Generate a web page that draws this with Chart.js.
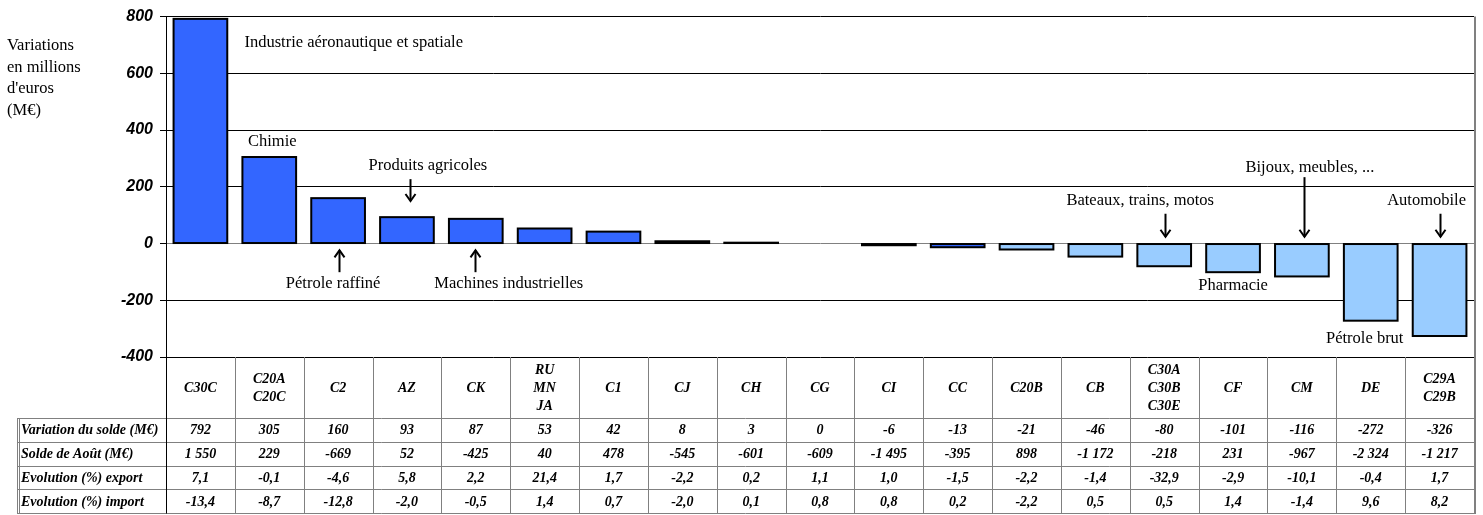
<!DOCTYPE html>
<html><head><meta charset="utf-8">
<script src="https://cdn.jsdelivr.net/npm/chart.js@4.4.1/dist/chart.umd.min.js"></script>
<style>html,body{margin:0;padding:0;background:#fff;}#wrap{width:1483px;height:515px;position:relative;}</style>
</head><body><div id="wrap"><canvas id="c"></canvas></div>
<script>
// ---------- DATA ----------
const categories = [['C30C'],['C20A','C20C'],['C2'],['AZ'],['CK'],['RU','MN','JA'],['C1'],['CJ'],['CH'],['CG'],['CI'],['CC'],['C20B'],['CB'],['C30A','C30B','C30E'],['CF'],['CM'],['DE'],['C29A','C29B']];
const variationSolde = [792,305,160,93,87,53,42,8,3,0,-6,-13,-21,-46,-80,-101,-116,-272,-326];
const soldeAout = [1550,229,-669,52,-425,40,478,-545,-601,-609,-1495,-395,898,-1172,-218,231,-967,-2324,-1217];
const evolExport = [7.1,-0.1,-4.6,5.8,2.2,21.4,1.7,-2.2,0.2,1.1,1.0,-1.5,-2.2,-1.4,-32.9,-2.9,-10.1,-0.4,1.7];
const evolImport = [-13.4,-8.7,-12.8,-2.0,-0.5,1.4,0.7,-2.0,0.1,0.8,0.8,0.2,-2.2,0.5,0.5,1.4,-1.4,9.6,8.2];
const rowLabels = ['Variation du solde (M\u20ac)','Solde de Ao\u00fbt (M\u20ac)','Evolution (%) export','Evolution (%) import'];
const yTicks = [-400,-200,0,200,400,600,800];
const yTitle = ['Variations','en millions',"d'euros",'(M\u20ac)'];
const annotationTexts = ['Industrie a\u00e9ronautique et spatiale','Chimie','Produits agricoles','P\u00e9trole raffin\u00e9','Machines industrielles','Bateaux, trains, motos','Bijoux, meubles, ...','Automobile','Pharmacie','P\u00e9trole brut'];

// ---------- STYLE / LAYOUT ----------
const DARK = '#3366FF', LIGHT = '#99CCFF', LIGHT_FROM = 12;
const TABLE_HEAD_BOTTOM = 418, TABLE_BOTTOM = 513, TABLE_LEFT = 17;
const annots = [
  {t:0, i:0, dx:44, y:707, align:'left'},
  {t:1, i:1, dx:3, y:360, align:'center'},
  {t:2, i:3, dx:21, y:276, align:'center', ax:3, adx:3, a1:227, a2:150},
  {t:3, i:2, dx:-5, y:-143, align:'center', ax:2, adx:1, a1:-101, a2:-24},
  {t:4, i:4, dx:33, y:-143, align:'center', ax:4, adx:-1, a1:-101, a2:-24},
  {t:5, i:14, dx:-24, y:150, align:'center', ax:14, adx:1, a1:105, a2:24},
  {t:6, i:16, dx:8, y:269, align:'center', ax:16, adx:2, a1:234, a2:24},
  {t:7, i:18, dx:-13, y:150, align:'center', ax:18, adx:0, a1:105, a2:24},
  {t:8, i:15, dx:0, y:-150, align:'center'},
  {t:9, i:17, dx:-6, y:-336, align:'center'}
];

function fmtInt(v){const s=Math.abs(v).toString().replace(/\B(?=(\d{3})+(?!\d))/g,' ');return (v<0?'-':'')+s;}
function fmtDec(v){return v.toFixed(1).replace('.',',');}

const outlinePlugin = {
  id:'outline',
  afterDatasetsDraw(chart){
    const ctx = chart.ctx;
    ctx.save(); ctx.strokeStyle='#000'; ctx.lineWidth=2;
    chart.getDatasetMeta(0).data.forEach((el,i)=>{
      if(variationSolde[i]===0) return;
      const p = el.getProps(['x','y','base','width'],true);
      const l = p.x-p.width/2, t = Math.min(p.y,p.base), h = Math.abs(p.base-p.y);
      ctx.strokeRect(l,t,p.width,h);
    });
    ctx.restore();
  }
};

const extrasPlugin = {
  id:'extras',
  afterDraw(chart){
    const ctx = chart.ctx, xs = chart.scales.x, ys = chart.scales.y, ca = chart.chartArea;
    const n = categories.length, colW = (ca.right-ca.left)/n;
    ctx.save();
    ctx.fillStyle='#000'; ctx.font="16.5px 'Liberation Serif'"; ctx.textAlign='left'; ctx.textBaseline='middle';
    yTitle.forEach((s,k)=>ctx.fillText(s,7,46+k*21.5));
    annots.forEach(a=>{
      ctx.textAlign=a.align;
      ctx.fillText(annotationTexts[a.t], xs.getPixelForValue(a.i)+a.dx, ys.getPixelForValue(a.y));
      if(a.ax!==undefined){
        const x = Math.round(xs.getPixelForValue(a.ax)+a.adx)+0.5;
        const y1 = ys.getPixelForValue(a.a1), y2 = ys.getPixelForValue(a.a2);
        const dir = y2>y1?1:-1;
        ctx.strokeStyle='#000'; ctx.lineWidth=2;
        ctx.beginPath(); ctx.moveTo(x,y1); ctx.lineTo(x,y2); ctx.stroke();
        ctx.beginPath(); ctx.moveTo(x-5,y2-dir*7); ctx.lineTo(x,y2); ctx.lineTo(x+5,y2-dir*7); ctx.stroke();
      }
    });
    const rowH = (TABLE_BOTTOM-TABLE_HEAD_BOTTOM)/4;
    ctx.strokeStyle='#808080'; ctx.lineWidth=1;
    const line=(x1,y1,x2,y2)=>{ctx.beginPath();ctx.moveTo(x1,y1);ctx.lineTo(x2,y2);ctx.stroke();};
    for(let i=1;i<n;i++){const x=Math.round(ca.left+i*colW)+0.5; line(x,ca.bottom,x,TABLE_BOTTOM);}
    for(let r=0;r<=4;r++){const y=Math.round(TABLE_HEAD_BOTTOM+r*rowH)+0.5; line(TABLE_LEFT,y,ca.right,y);}
    line(TABLE_LEFT+0.5,TABLE_HEAD_BOTTOM,TABLE_LEFT+0.5,TABLE_BOTTOM+0.5);
    line(TABLE_LEFT+2.5,TABLE_HEAD_BOTTOM,TABLE_LEFT+2.5,TABLE_BOTTOM+0.5);
    ctx.strokeStyle='#000';
    line(Math.round(ca.left)+0.5,ca.bottom,Math.round(ca.left)+0.5,TABLE_BOTTOM+0.5);
    ctx.strokeStyle='#808080'; ctx.lineWidth=2;
    line(Math.round(ca.right)+1,ca.top,Math.round(ca.right)+1,TABLE_BOTTOM+1);
    ctx.fillStyle='#000'; ctx.textAlign='center'; ctx.textBaseline='middle';
    ctx.font="bold italic 14px 'Liberation Serif'";
    const headMid = (ca.bottom+TABLE_HEAD_BOTTOM)/2+1;
    categories.forEach((lines,i)=>{
      const x = xs.getPixelForValue(i);
      const lh = 18, y0 = headMid - (lines.length-1)*lh/2;
      lines.forEach((s,k)=>ctx.fillText(s,x,y0+k*lh));
    });
    const rows = [variationSolde.map(fmtInt), soldeAout.map(fmtInt), evolExport.map(fmtDec), evolImport.map(fmtDec)];
    rows.forEach((vals,r)=>{
      const y = TABLE_HEAD_BOTTOM + (r+0.5)*rowH + 1;
      ctx.textAlign='left';
      ctx.fillText(rowLabels[r], TABLE_LEFT+4, y);
      ctx.textAlign='center';
      vals.forEach((s,i)=>ctx.fillText(s, xs.getPixelForValue(i), y));
    });
    ctx.restore();
  }
};

new Chart(document.getElementById('c'), {
  type:'bar',
  data:{
    labels: categories.map(c=>c.join(' ')),
    datasets:[{
      data: variationSolde,
      backgroundColor: c=>c.dataIndex<LIGHT_FROM?DARK:LIGHT,
      borderWidth:0,
      barPercentage:0.78,
      categoryPercentage:1
    }]
  },
  options:{
    responsive:true, maintainAspectRatio:false, animation:false, devicePixelRatio:1,
    layout:{padding:{left:0,right:9,top:14,bottom:158}},
    plugins:{legend:{display:false},tooltip:{enabled:false}},
    scales:{
      x:{display:false},
      y:{
        min:-400, max:800,
        afterFit:s=>{s.width=166;},
        afterBuildTicks:s=>{s.ticks=yTicks.map(v=>({value:v}));},
        ticks:{font:{family:"'Liberation Sans'",size:16,weight:'bold',style:'italic'},color:'#000',padding:7},
        grid:{color:c=>c.tick&&c.tick.value===0?'#808080':'#000',lineWidth:1,tickLength:6,tickColor:'#000',drawTicks:true},
        border:{display:true,color:'#000',width:1}
      }
    }
  },
  plugins:[outlinePlugin, extrasPlugin]
});
</script></body></html>
